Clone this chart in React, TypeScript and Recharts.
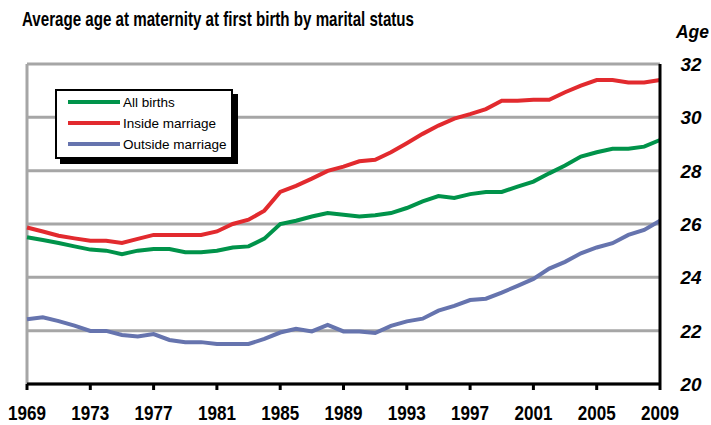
import {
  LineChart,
  Line,
  XAxis,
  YAxis,
  CartesianGrid,
  ReferenceLine,
} from "recharts";

const years = [
  1969, 1970, 1971, 1972, 1973, 1974, 1975, 1976, 1977, 1978, 1979, 1980, 1981,
  1982, 1983, 1984, 1985, 1986, 1987, 1988, 1989, 1990, 1991, 1992, 1993, 1994,
  1995, 1996, 1997, 1998, 1999, 2000, 2001, 2002, 2003, 2004, 2005, 2006, 2007,
  2008, 2009,
];

const allBirths = [
  25.5, 25.4, 25.29, 25.16, 25.04, 25.0, 24.87, 25.0, 25.06, 25.06, 24.94,
  24.94, 25.0, 25.12, 25.16, 25.45, 26.0, 26.12, 26.28, 26.41, 26.35, 26.28,
  26.33, 26.41, 26.6, 26.85, 27.05, 26.98, 27.12, 27.2, 27.2, 27.4, 27.59,
  27.9, 28.19, 28.53, 28.69, 28.82, 28.82, 28.9, 29.15,
];

const insideMarriage = [
  25.87, 25.72, 25.56, 25.46, 25.37, 25.37, 25.29, 25.44, 25.59, 25.59, 25.59,
  25.59, 25.72, 26.0, 26.16, 26.5, 27.2, 27.43, 27.7, 27.99, 28.15, 28.35,
  28.41, 28.69, 29.03, 29.38, 29.69, 29.95, 30.12, 30.31, 30.62, 30.62, 30.66,
  30.66, 30.94, 31.19, 31.4, 31.4, 31.31, 31.31, 31.4,
];

const outsideMarriage = [
  22.43, 22.5, 22.36, 22.19, 21.99, 21.99, 21.84, 21.78, 21.87, 21.65, 21.57,
  21.57, 21.5, 21.5, 21.5, 21.69, 21.93, 22.07, 21.97, 22.22, 21.97, 21.97,
  21.91, 22.18, 22.35, 22.45, 22.75, 22.93, 23.15, 23.2, 23.43, 23.68, 23.94,
  24.33, 24.58, 24.9, 25.12, 25.28, 25.59, 25.78, 26.12,
];

const xTicks = [1969, 1973, 1977, 1981, 1985, 1989, 1993, 1997, 2001, 2005, 2009];
const yTicks = [20, 22, 24, 26, 28, 30, 32];

const seriesNames = ["All births", "Inside marriage", "Outside marriage"];
const seriesColors = ["#00934A", "#E22A2E", "#6674AE"];

const chartData = years.map((year, i) => ({
  year,
  all: allBirths[i],
  inside: insideMarriage[i],
  outside: outsideMarriage[i],
}));

const FONT = "'Liberation Sans', Arial, sans-serif";

const XTick = ({ x, payload }: any) => (
  <text
    x={x}
    y={420}
    textAnchor="middle"
    fontFamily={FONT}
    fontWeight="bold"
    fontSize={20}
    fill="#000"
    textLength={38}
    lengthAdjust="spacingAndGlyphs"
  >
    {payload.value}
  </text>
);

const YTick = ({ y, payload }: any) => (
  <text
    x={691}
    y={y + 7}
    textAnchor="middle"
    fontFamily={FONT}
    fontWeight="bold"
    fontStyle="italic"
    fontSize={19}
    fill="#000"
    textLength={21}
    lengthAdjust="spacingAndGlyphs"
  >
    {payload.value}
  </text>
);

const LegendBox = () => (
  <div
    style={{
      position: "absolute",
      left: 55,
      top: 89,
      width: 174,
      height: 66,
      background: "#fff",
      border: "2px solid #000",
      boxShadow: "5px 5px 0 #000",
      fontFamily: FONT,
      fontSize: 13.5,
    }}
  >
    {seriesNames.map((name, i) => (
      <div
        key={name}
        style={{
          position: "absolute",
          left: 11,
          top: 3 + i * 21,
          height: 16,
          display: "flex",
          alignItems: "center",
          whiteSpace: "nowrap",
        }}
      >
        <div
          style={{
            width: 52,
            height: 4,
            background: seriesColors[i],
            marginRight: 3,
          }}
        />
        {name}
      </div>
    ))}
  </div>
);

const App = () => {
  return (
    <div
      style={{
        position: "absolute",
        left: 0,
        top: 0,
        width: 711,
        height: 425,
        background: "#fff",
      }}
    >
      <LineChart
        width={711}
        height={425}
        data={chartData}
        margin={{ top: 64, right: 0, bottom: 0, left: 27 }}
      >
        <CartesianGrid
          vertical={false}
          stroke="#A6A6A6"
          strokeWidth={3}
          horizontalValues={yTicks}
        />
        <ReferenceLine x={1969} stroke="#A6A6A6" strokeWidth={3} />
        <XAxis
          dataKey="year"
          type="number"
          domain={[1969, 2009]}
          ticks={xTicks}
          interval={0}
          height={41}
          axisLine={{ stroke: "#000", strokeWidth: 3 }}
          tickLine={{ stroke: "#000", strokeWidth: 3 }}
          tickSize={6}
          tick={XTick}
        />
        <YAxis
          orientation="right"
          domain={[20, 32]}
          ticks={yTicks}
          interval={0}
          width={51}
          axisLine={{ stroke: "#000", strokeWidth: 3 }}
          tickLine={false}
          tick={YTick}
        />
        <Line
          type="linear"
          dataKey="all"
          stroke={seriesColors[0]}
          strokeWidth={4}
          dot={false}
          isAnimationActive={false}
        />
        <Line
          type="linear"
          dataKey="inside"
          stroke={seriesColors[1]}
          strokeWidth={4}
          dot={false}
          isAnimationActive={false}
        />
        <Line
          type="linear"
          dataKey="outside"
          stroke={seriesColors[2]}
          strokeWidth={4}
          dot={false}
          isAnimationActive={false}
        />
      </LineChart>

      <svg
        width={711}
        height={60}
        style={{ position: "absolute", left: 0, top: 0, pointerEvents: "none" }}
      >
        <text
          x={22}
          y={26}
          fontFamily={FONT}
          fontWeight="bold"
          fontSize={21}
          fill="#000"
          textLength={392}
          lengthAdjust="spacingAndGlyphs"
        >
          Average age at maternity at first birth by marital status
        </text>
        <text
          x={676}
          y={38}
          fontFamily={FONT}
          fontWeight="bold"
          fontStyle="italic"
          fontSize={19}
          fill="#000"
          textLength={33}
          lengthAdjust="spacingAndGlyphs"
        >
          Age
        </text>
      </svg>

      <LegendBox />
    </div>
  );
};

export default App;
